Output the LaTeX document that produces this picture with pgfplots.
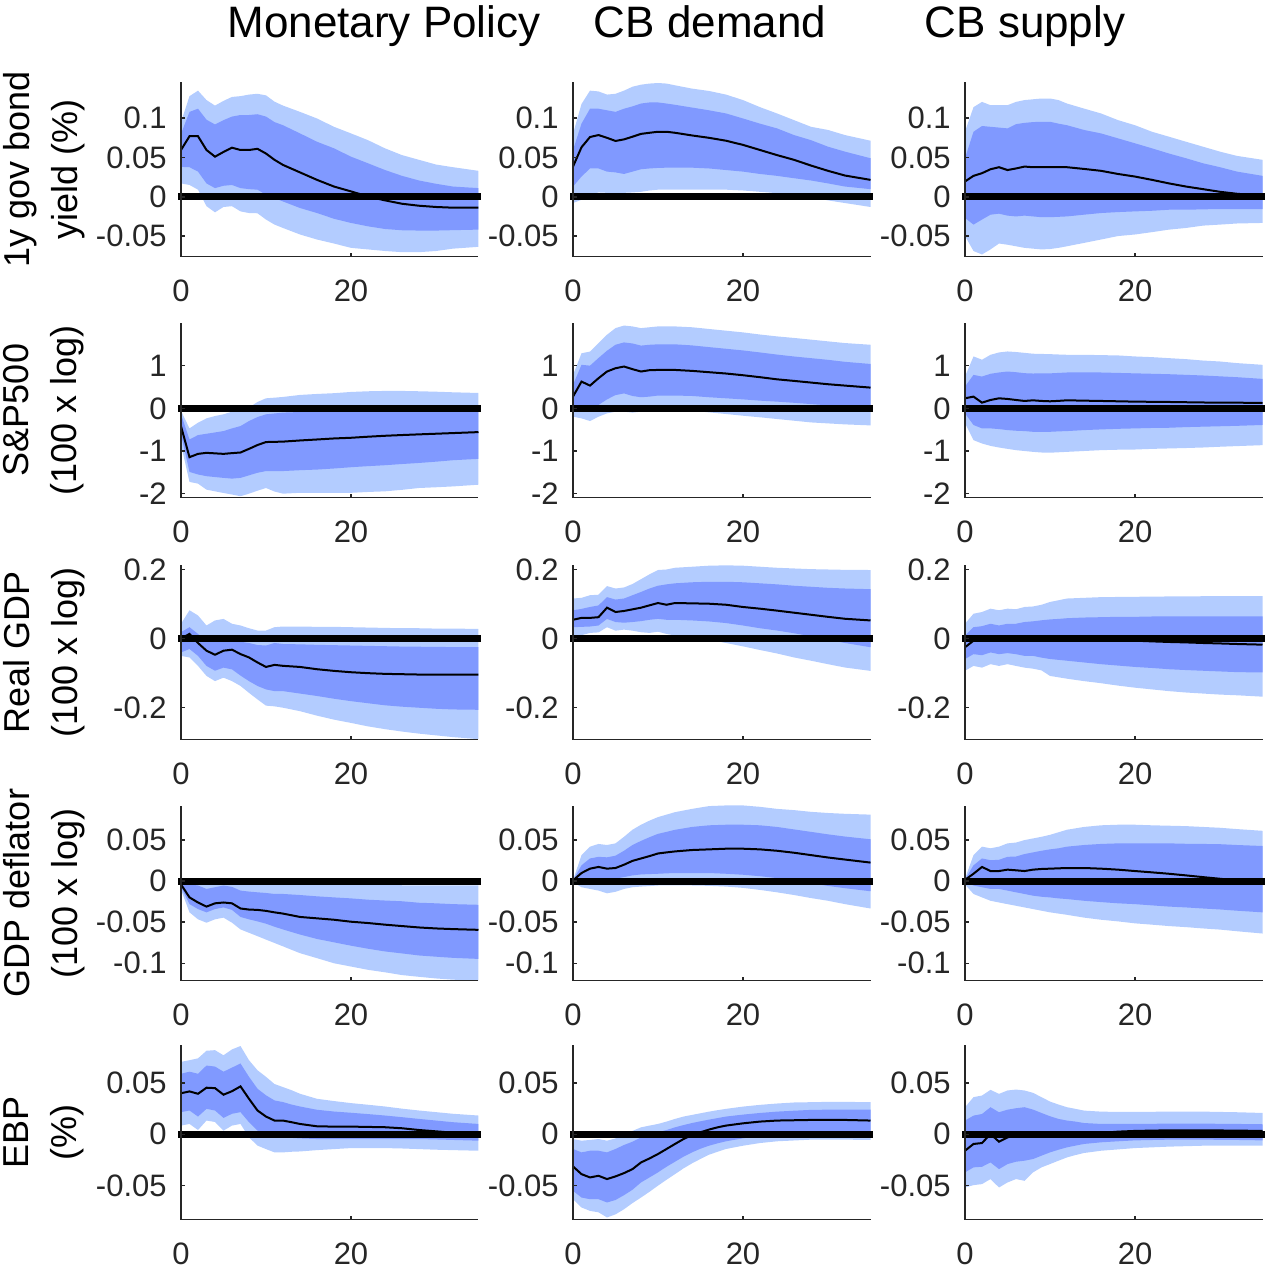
\documentclass[border=0pt]{standalone}
\usepackage{fontspec}
\setmainfont{Liberation Sans}
\usepackage{pgfplots}
\usepackage{pgfplotstable}
\pgfplotsset{compat=1.18}
\usepgfplotslibrary{fillbetween}
\definecolor{lightb}{RGB}{179,204,255}
\definecolor{darkb}{RGB}{128,153,255}
\definecolor{axgray}{RGB}{38,38,38}

\pgfplotstableread{
x l90 l68 m h68 h90
0 0.017 0.038 0.0595 0.080 0.095
1 0.015 0.0376 0.077 0.108 0.128
2 0.009 0.032 0.077 0.112 0.135
3 -0.012 0.017 0.0595 0.098 0.123
4 -0.0198 0.011 0.051 0.092 0.116
5 -0.013 0.014 0.057 0.0975 0.122
6 -0.012 0.015 0.0624 0.102 0.127
7 -0.0186 0.011 0.0595 0.104 0.128
8 -0.0207 0.0097 0.0595 0.104 0.130
9 -0.021 0.009 0.061 0.105 0.131
10 -0.029 0.0025 0.055 0.102 0.129
11 -0.0354 -0.0017 0.047 0.095 0.121
12 -0.0397 -0.006 0.0405 0.091 0.116
14 -0.048 -0.0143 0.031 0.0806 0.108
16 -0.0544 -0.0207 0.0215 0.070 0.0996
18 -0.0595 -0.028 0.013 0.0616 0.089
20 -0.065 -0.0333 0.0068 0.051 0.0806
22 -0.067 -0.0376 0.0004 0.0426 0.072
24 -0.069 -0.041 -0.0046 0.034 0.0616
26 -0.0705 -0.0426 -0.0089 0.0266 0.053
28 -0.0705 -0.043 -0.0114 0.0207 0.047
30 -0.069 -0.043 -0.013 0.0165 0.041
32 -0.066 -0.0425 -0.0139 0.013 0.0376
35 -0.0637 -0.0418 -0.0139 0.011 0.033
}\tAA
\pgfplotstableread{
x l90 l68 m h68 h90
0 -0.008 0.013 0.0384 0.0595 0.080
1 -0.0038 0.0257 0.063 0.093 0.118
2 0.0025 0.036 0.076 0.112 0.135
3 0.0055 0.036 0.0785 0.112 0.134
4 0.005 0.032 0.075 0.110 0.130
5 0.004 0.031 0.071 0.108 0.131
6 0.005 0.029 0.073 0.112 0.135
7 0.0055 0.032 0.0764 0.115 0.140
8 0.0063 0.035 0.080 0.1186 0.1426
9 0.008 0.036 0.0814 0.120 0.144
10 0.009 0.0367 0.0827 0.120 0.1447
11 0.009 0.037 0.0827 0.1186 0.144
12 0.009 0.037 0.0814 0.117 0.1418
14 0.009 0.037 0.078 0.1135 0.1376
16 0.009 0.036 0.075 0.110 0.1346
18 0.009 0.034 0.0713 0.106 0.130
20 0.008 0.032 0.066 0.0996 0.123
22 0.0063 0.029 0.0595 0.093 0.114
24 0.0046 0.0266 0.053 0.087 0.106
26 0.0025 0.0236 0.047 0.0785 0.0975
28 -0.0008 0.0207 0.0397 0.072 0.089
30 -0.0046 0.017 0.033 0.0637 0.085
32 -0.008 0.013 0.027 0.0574 0.0785
35 -0.013 0.0097 0.0215 0.049 0.0713
}\tAB
\pgfplotstableread{
x l90 l68 m h68 h90
0 -0.050 -0.027 0.0194 0.049 0.083
1 -0.069 -0.0354 0.0266 0.0827 0.114
2 -0.0734 -0.029 0.030 0.090 0.1207
3 -0.067 -0.0228 0.035 0.089 0.1165
4 -0.0595 -0.0215 0.0376 0.088 0.1165
5 -0.061 -0.024 0.034 0.087 0.1165
6 -0.063 -0.025 0.036 0.0924 0.1207
7 -0.065 -0.024 0.0384 0.094 0.123
8 -0.066 -0.025 0.0376 0.095 0.124
9 -0.067 -0.026 0.0376 0.0954 0.125
10 -0.0665 -0.026 0.0376 0.0954 0.125
11 -0.065 -0.0255 0.0376 0.093 0.123
12 -0.063 -0.025 0.0376 0.091 0.1186
14 -0.0587 -0.0228 0.0354 0.085 0.1122
16 -0.0544 -0.0207 0.033 0.0806 0.106
18 -0.050 -0.0195 0.029 0.0743 0.0975
20 -0.048 -0.0186 0.0257 0.068 0.091
22 -0.045 -0.0178 0.0215 0.0616 0.0827
24 -0.0418 -0.0165 0.017 0.055 0.0764
26 -0.0397 -0.0165 0.013 0.049 0.070
28 -0.0367 -0.016 0.0097 0.0426 0.0637
30 -0.0354 -0.0156 0.0063 0.0376 0.0574
32 -0.034 -0.0156 0.0038 0.032 0.052
35 -0.0333 -0.0156 0.0013 0.0266 0.047
}\tAC
\pgfplotstableread{
x l90 l68 m h68 h90
0 -0.847 -0.61 -0.42 -0.14 -0.06
1 -1.725 -1.49 -1.145 -0.73 -0.47
2 -1.765 -1.55 -1.067 -0.627 -0.337
3 -1.906 -1.59 -1.043 -0.596 -0.235
4 -1.945 -1.61 -1.055 -0.565 -0.18
5 -1.984 -1.63 -1.067 -0.533 -0.14
6 -2.02 -1.647 -1.05 -0.47 -0.078
7 -2.06 -1.63 -1.035 -0.416 -0.063
8 -2.0 -1.57 -0.95 -0.298 0.016
9 -1.93 -1.51 -0.86 -0.204 0.149
10 -1.867 -1.47 -0.79 -0.14 0.235
11 -1.95 -1.47 -0.785 -0.12 0.25
12 -2.0 -1.47 -0.78 -0.10 0.267
14 -1.98 -1.45 -0.753 -0.086 0.314
16 -1.98 -1.435 -0.73 -0.063 0.337
18 -1.98 -1.41 -0.706 -0.055 0.355
20 -1.98 -1.38 -0.69 -0.047 0.384
22 -1.96 -1.355 -0.665 -0.04 0.40
24 -1.945 -1.333 -0.643 -0.035 0.408
26 -1.91 -1.305 -0.626 -0.035 0.408
28 -1.867 -1.28 -0.61 -0.04 0.40
30 -1.85 -1.25 -0.595 -0.04 0.39
32 -1.83 -1.216 -0.58 -0.047 0.376
35 -1.79 -1.184 -0.557 -0.063 0.36
}\tBA
\pgfplotstableread{
x l90 l68 m h68 h90
0 -0.196 0 0.275 0.55 0.78
1 -0.235 0.04 0.627 1.02 1.29
2 -0.298 -0.02 0.533 1.0 1.33
3 -0.196 0.08 0.706 1.18 1.53
4 -0.118 0.21 0.863 1.35 1.725
5 -0.078 0.31 0.94 1.49 1.88
6 -0.078 0.35 0.98 1.545 1.94
7 -0.1 0.29 0.918 1.52 1.92
8 -0.078 0.26 0.863 1.47 1.88
9 -0.063 0.275 0.894 1.49 1.9
10 -0.04 0.30 0.9 1.5 1.92
11 -0.04 0.30 0.9 1.5 1.92
12 -0.04 0.30 0.9 1.5 1.92
14 -0.055 0.29 0.878 1.475 1.9
16 -0.094 0.26 0.847 1.435 1.86
18 -0.133 0.235 0.816 1.396 1.82
20 -0.173 0.21 0.776 1.357 1.78
22 -0.21 0.18 0.73 1.31 1.73
24 -0.25 0.157 0.68 1.26 1.686
26 -0.29 0.13 0.643 1.215 1.65
28 -0.33 0.10 0.604 1.176 1.61
30 -0.353 0.07 0.565 1.137 1.57
32 -0.376 0.04 0.533 1.09 1.53
35 -0.4 0.016 0.486 1.04 1.49
}\tBB
\pgfplotstableread{
x l90 l68 m h68 h90
0 -0.35 -0.118 0.235 0.51 0.745
1 -0.745 -0.39 0.275 0.784 1.216
2 -0.824 -0.47 0.133 0.745 1.14
3 -0.88 -0.47 0.196 0.81 1.255
4 -0.918 -0.486 0.235 0.84 1.31
5 -0.95 -0.51 0.22 0.863 1.333
6 -0.98 -0.525 0.196 0.847 1.32
7 -1.0 -0.533 0.173 0.824 1.30
8 -1.02 -0.55 0.188 0.816 1.28
9 -1.035 -0.55 0.173 0.82 1.275
10 -1.04 -0.55 0.165 0.82 1.27
11 -1.03 -0.54 0.175 0.83 1.262
12 -1.02 -0.533 0.188 0.84 1.255
14 -1.0 -0.51 0.18 0.84 1.255
16 -0.98 -0.494 0.173 0.84 1.247
18 -0.97 -0.48 0.165 0.83 1.24
20 -0.965 -0.47 0.157 0.82 1.216
22 -0.95 -0.46 0.153 0.81 1.2
24 -0.94 -0.455 0.149 0.8 1.176
26 -0.93 -0.44 0.143 0.785 1.153
28 -0.918 -0.43 0.137 0.77 1.12
30 -0.9 -0.42 0.135 0.75 1.098
32 -0.885 -0.41 0.133 0.73 1.06
35 -0.863 -0.39 0.125 0.69 1.02
}\tBC
\pgfplotstableread{
x l90 l68 m h68 h90
0 -0.05 -0.04 0 0.0185 0.043
1 -0.0545 -0.03 0.0136 0.033 0.082
2 -0.079 -0.05 -0.0127 0.0136 0.067
3 -0.108 -0.079 -0.035 -0.006 0.038
4 -0.123 -0.093 -0.0467 0.004 0.0526
5 -0.113 -0.084 -0.035 0.0088 0.057
6 -0.123 -0.089 -0.032 -0.001 0.043
7 -0.137 -0.107 -0.0448 -0.009 0.038
8 -0.157 -0.123 -0.0545 -0.0127 0.030
9 -0.176 -0.137 -0.069 -0.0185 0.0234
10 -0.194 -0.147 -0.082 -0.020 0.0234
11 -0.196 -0.152 -0.076 -0.0127 0.033
12 -0.2 -0.152 -0.0788 -0.0156 0.035
14 -0.21 -0.159 -0.082 -0.0166 0.035
16 -0.223 -0.166 -0.0886 -0.018 0.034
18 -0.2345 -0.174 -0.0934 -0.019 0.034
20 -0.244 -0.181 -0.0973 -0.020 0.033
22 -0.254 -0.187 -0.1 -0.021 0.032
24 -0.262 -0.193 -0.102 -0.022 0.031
26 -0.269 -0.197 -0.103 -0.023 0.030
28 -0.275 -0.2 -0.104 -0.0235 0.030
30 -0.28 -0.203 -0.104 -0.024 0.029
32 -0.285 -0.205 -0.104 -0.0245 0.029
35 -0.291 -0.206 -0.104 -0.025 0.028
}\tCA
\pgfplotstableread{
x l90 l68 m h68 h90
0 0.0088 0.033 0.0545 0.082 0.116
1 0.010 0.034 0.060 0.086 0.118
2 0.0165 0.035 0.060 0.0915 0.1255
3 0.018 0.038 0.062 0.096 0.127
4 0.033 0.057 0.0895 0.12 0.152
5 0.023 0.048 0.077 0.113 0.145
6 0.026 0.046 0.080 0.116 0.148
7 0.023 0.048 0.0847 0.1255 0.158
8 0.0185 0.0506 0.0895 0.135 0.172
9 0.0165 0.0545 0.0963 0.145 0.186
10 0.020 0.057 0.103 0.153 0.1985
11 0.0136 0.0545 0.098 0.157 0.200
12 0.0088 0.0545 0.103 0.16 0.205
14 0.004 0.0526 0.102 0.163 0.208
16 -0.003 0.0497 0.101 0.1645 0.211
18 -0.0127 0.045 0.098 0.1645 0.212
20 -0.0224 0.038 0.0915 0.163 0.211
22 -0.033 0.030 0.0866 0.16 0.208
24 -0.043 0.0234 0.081 0.157 0.205
26 -0.0545 0.0156 0.075 0.153 0.203
28 -0.064 0.0068 0.069 0.15 0.201
30 -0.074 -0.003 0.063 0.147 0.200
32 -0.0837 -0.0127 0.0574 0.145 0.199
35 -0.0934 -0.025 0.0526 0.143 0.1985
}\tCB
\pgfplotstableread{
x l90 l68 m h68 h90
0 -0.093 -0.059 -0.025 0.0088 0.043
1 -0.079 -0.045 -0.006 0.033 0.072
2 -0.084 -0.048 0.001 0.036 0.077
3 -0.074 -0.04 0.001 0.043 0.0866
4 -0.079 -0.045 0.0 0.038 0.082
5 -0.074 -0.042 0.0 0.043 0.0866
6 -0.079 -0.045 0.0 0.043 0.085
7 -0.084 -0.05 0.0 0.048 0.0915
8 -0.087 -0.05 0.0 0.050 0.093
9 -0.092 -0.055 0.0 0.053 0.098
10 -0.108 -0.059 0.0 0.0555 0.106
11 -0.112 -0.0615 0.0 0.057 0.111
12 -0.116 -0.064 0.0 0.059 0.116
14 -0.123 -0.069 -0.0005 0.061 0.118
16 -0.129 -0.074 -0.002 0.062 0.12
18 -0.136 -0.078 -0.004 0.063 0.1205
20 -0.142 -0.082 -0.006 0.063 0.121
22 -0.147 -0.085 -0.008 0.064 0.1215
24 -0.152 -0.0886 -0.0097 0.064 0.122
26 -0.156 -0.091 -0.011 0.064 0.1225
28 -0.159 -0.093 -0.0127 0.064 0.1226
30 -0.162 -0.095 -0.014 0.064 0.1226
32 -0.164 -0.097 -0.0156 0.064 0.1226
35 -0.168 -0.098 -0.0175 0.064 0.1226
}\tCC
\pgfplotstableread{
x l90 l68 m h68 h90
0 -0.0105 -0.0074 -0.004 0 0
1 -0.038 -0.028 -0.0198 -0.004 -0.001
2 -0.0465 -0.034 -0.026 -0.0053 -0.002
3 -0.0506 -0.038 -0.031 -0.0095 -0.003
4 -0.0465 -0.034 -0.027 -0.0074 -0.002
5 -0.0444 -0.032 -0.026 -0.0053 -0.001
6 -0.0506 -0.035 -0.027 -0.007 -0.002
7 -0.0588 -0.0436 -0.0333 -0.0115 -0.003
8 -0.0629 -0.0465 -0.0346 -0.0127 -0.003
9 -0.067 -0.049 -0.035 -0.0136 -0.003
10 -0.0712 -0.0518 -0.0362 -0.0144 -0.003
11 -0.0753 -0.0555 -0.038 -0.0156 -0.003
12 -0.0794 -0.0588 -0.0395 -0.0156 -0.003
14 -0.0877 -0.065 -0.0436 -0.0169 -0.003
16 -0.0938 -0.0704 -0.0453 -0.0185 -0.0035
18 -0.1 -0.0745 -0.047 -0.0198 -0.004
20 -0.104 -0.0786 -0.0494 -0.021 -0.004
22 -0.108 -0.0823 -0.051 -0.0226 -0.0045
24 -0.111 -0.0856 -0.053 -0.0236 -0.0045
26 -0.1144 -0.088 -0.0547 -0.0245 -0.005
28 -0.1165 -0.0905 -0.0564 -0.0263 -0.005
30 -0.1185 -0.092 -0.0576 -0.027 -0.005
32 -0.12 -0.0934 -0.0584 -0.028 -0.005
35 -0.121 -0.0947 -0.0593 -0.0288 -0.005
}\tDA
\pgfplotstableread{
x l90 l68 m h68 h90
0 -0.0012 0 0.0008 0.001 0.001
1 -0.0074 0.0016 0.0099 0.0193 0.0317
2 -0.0095 0.003 0.0152 0.0276 0.042
3 -0.0115 0.0037 0.0173 0.0296 0.0453
4 -0.0148 0.003 0.0152 0.029 0.044
5 -0.013 0.003 0.016 0.031 0.046
6 -0.0095 0.005 0.020 0.037 0.054
7 -0.0074 0.007 0.0247 0.044 0.0626
8 -0.0066 0.0082 0.0276 0.049 0.0687
9 -0.006 0.0086 0.0305 0.0535 0.0737
10 -0.0053 0.009 0.0337 0.0576 0.078
11 -0.0053 0.0095 0.035 0.060 0.081
12 -0.0053 0.0099 0.0362 0.0625 0.084
14 -0.0053 0.0099 0.0379 0.066 0.088
16 -0.0057 0.0099 0.0387 0.068 0.0914
18 -0.0066 0.009 0.0395 0.0687 0.0922
20 -0.0082 0.0078 0.0395 0.0687 0.0922
22 -0.0107 0.006 0.0387 0.068 0.0905
24 -0.0136 0.0037 0.037 0.066 0.088
26 -0.0169 0.0008 0.0346 0.063 0.0865
28 -0.0206 -0.0025 0.0317 0.060 0.0844
30 -0.0239 -0.0058 0.0288 0.057 0.083
32 -0.028 -0.0086 0.0263 0.0543 0.082
35 -0.0333 -0.0123 0.0226 0.051 0.081
}\tDB
\pgfplotstableread{
x l90 l68 m h68 h90
0 -0.004 -0.0012 0.0016 0.002 0.003
1 -0.0156 -0.0053 0.009 0.0193 0.0317
2 -0.0198 -0.0074 0.0173 0.0276 0.042
3 -0.0239 -0.0095 0.0123 0.0255 0.040
4 -0.026 -0.0095 0.0123 0.026 0.042
5 -0.028 -0.0115 0.014 0.0296 0.046
6 -0.030 -0.0136 0.0132 0.030 0.047
7 -0.032 -0.0156 0.0123 0.033 0.050
8 -0.034 -0.0177 0.014 0.035 0.052
9 -0.036 -0.019 0.0148 0.037 0.054
10 -0.038 -0.0198 0.0152 0.0387 0.0564
11 -0.0395 -0.021 0.0156 0.040 0.0595
12 -0.041 -0.0218 0.016 0.042 0.0626
14 -0.0444 -0.0239 0.016 0.044 0.066
16 -0.047 -0.0255 0.0152 0.0453 0.068
18 -0.049 -0.027 0.014 0.046 0.0687
20 -0.0514 -0.028 0.0123 0.046 0.0687
22 -0.053 -0.0295 0.0107 0.046 0.068
24 -0.0547 -0.031 0.009 0.046 0.0675
26 -0.056 -0.032 0.007 0.0455 0.067
28 -0.0576 -0.0333 0.0049 0.0453 0.066
30 -0.059 -0.0345 0.0029 0.045 0.065
32 -0.061 -0.036 0.0008 0.044 0.0634
35 -0.0638 -0.038 0.0 0.0428 0.0613
}\tDC
\pgfplotstableread{
x l90 l68 m h68 h90
0 0.0085 0.0216 0.040 0.059 0.0706
1 0.0101 0.0232 0.0418 0.061 0.0722
2 0.0042 0.0173 0.0395 0.059 0.074
3 0.0134 0.0248 0.0454 0.067 0.0814
4 0.012 0.0232 0.045 0.066 0.082
5 0.0036 0.016 0.0386 0.061 0.077
6 0.0085 0.020 0.042 0.065 0.0827
7 0.0101 0.0216 0.0467 0.069 0.086
8 -0.003 0.0118 0.0346 0.056 0.0722
9 -0.011 0.0036 0.0232 0.0444 0.0624
10 -0.0144 0.0003 0.0173 0.038 0.056
11 -0.0176 -0.0023 0.0134 0.033 0.049
12 -0.0176 -0.003 0.0134 0.0314 0.046
13 -0.017 -0.0035 0.0118 0.029 0.043
14 -0.0167 -0.004 0.0101 0.0271 0.0395
16 -0.0154 -0.0046 0.0078 0.0239 0.0346
18 -0.0144 -0.0046 0.0075 0.0222 0.0324
20 -0.0134 -0.0046 0.0075 0.021 0.0304
22 -0.0134 -0.0046 0.0072 0.0197 0.0288
24 -0.0134 -0.0046 0.0069 0.0183 0.0271
26 -0.0138 -0.0046 0.0059 0.0167 0.025
28 -0.0144 -0.0046 0.0042 0.015 0.0232
30 -0.015 -0.005 0.0029 0.0134 0.0216
32 -0.0154 -0.0055 0.0016 0.0118 0.020
35 -0.016 -0.0062 0.0003 0.0101 0.0183
}\tEA
\pgfplotstableread{
x l90 l68 m h68 h90
0 -0.0632 -0.055 -0.0313 -0.0143 -0.0046
1 -0.0713 -0.0616 -0.0388 -0.0176 -0.0062
2 -0.0746 -0.0632 -0.042 -0.016 -0.0055
3 -0.076 -0.0632 -0.0404 -0.016 -0.0046
4 -0.081 -0.0664 -0.0436 -0.0176 -0.0062
5 -0.078 -0.064 -0.041 -0.0143 -0.004
6 -0.073 -0.0593 -0.0378 -0.0104 0
7 -0.067 -0.054 -0.0339 -0.0072 0.0033
8 -0.0616 -0.0469 -0.0274 -0.003 0.0068
9 -0.056 -0.042 -0.0235 -0.0007 0.0085
10 -0.050 -0.0371 -0.0192 0.002 0.0101
11 -0.0443 -0.0316 -0.0143 0.0042 0.0124
12 -0.0388 -0.0267 -0.0094 0.0068 0.015
13 -0.0332 -0.0218 -0.0046 0.009 0.0173
14 -0.0283 -0.0176 -0.0007 0.011 0.0189
15 -0.024 -0.014 0.002 0.0127 0.0205
16 -0.0199 -0.0111 0.0046 0.0143 0.0221
17 -0.017 -0.0088 0.0068 0.0158 0.0235
18 -0.0143 -0.0068 0.0085 0.0173 0.0248
20 -0.0111 -0.0039 0.0107 0.0192 0.027
22 -0.0085 -0.0013 0.0124 0.0208 0.0287
24 -0.0068 0.0003 0.0134 0.0221 0.030
26 -0.006 0.0013 0.0137 0.023 0.031
28 -0.0052 0.002 0.014 0.0238 0.0313
30 -0.0052 0.002 0.014 0.024 0.0316
32 -0.0052 0.002 0.014 0.0241 0.0316
35 -0.0055 0.0016 0.0134 0.0241 0.0313
}\tEB
\pgfplotstableread{
x l90 l68 m h68 h90
0 -0.0518 -0.0371 -0.016 0.0134 0.0264
1 -0.0495 -0.0322 -0.0094 0.0182 0.0362
2 -0.0485 -0.0316 -0.0085 0.0198 0.0378
3 -0.0436 -0.0274 0.0003 0.0264 0.0433
4 -0.0518 -0.0339 -0.0072 0.0215 0.0394
5 -0.0469 -0.029 -0.003 0.024 0.0427
6 -0.0436 -0.0267 -0.0007 0.0254 0.0436
7 -0.0453 -0.0257 -0.0007 0.0264 0.0427
8 -0.0371 -0.0241 -0.0003 0.0241 0.0404
9 -0.0322 -0.0208 0 0.0208 0.0362
10 -0.029 -0.0176 0 0.0176 0.0319
11 -0.0257 -0.015 0 0.015 0.029
12 -0.0225 -0.0127 0 0.0134 0.0264
13 -0.0202 -0.011 0 0.0124 0.0248
14 -0.0182 -0.0094 0.0003 0.011 0.0231
16 -0.016 -0.0078 0.0013 0.0101 0.0221
18 -0.0147 -0.0068 0.0026 0.0101 0.0218
20 -0.0134 -0.0059 0.0033 0.0101 0.0218
24 -0.012 -0.0052 0.0039 0.0104 0.0221
28 -0.0111 -0.0052 0.0039 0.0104 0.0221
32 -0.0111 -0.0055 0.0036 0.0101 0.0215
35 -0.0111 -0.0059 0.0033 0.0098 0.0208
}\tEC

\newcommand{\irf}[1]{%
  \addplot[draw=none, name path=hA] table[x=x,y=h90]{#1};
  \addplot[draw=none, name path=lA] table[x=x,y=l90]{#1};
  \addplot[fill=lightb, draw=none] fill between[of=hA and lA];
  \addplot[draw=none, name path=hB] table[x=x,y=h68]{#1};
  \addplot[draw=none, name path=lB] table[x=x,y=l68]{#1};
  \addplot[fill=darkb, draw=none] fill between[of=hB and lB];
  \addplot[black, line width=1pt] table[x=x,y=m]{#1};
  \addplot[black, line width=3.5pt] coordinates {(-0.35,0) (35.35,0)};
}

\pgfplotsset{
  panel/.style={
    anchor=north west,
    scale only axis,
    width=148.75pt, height=87.25pt,
    xmin=0, xmax=35,
    clip=false,
    axis on top,
    scaled y ticks=false, scaled x ticks=false,
    axis x line*=bottom, axis y line*=left,
    axis line style={axgray, line width=0.75pt},
    tick style={axgray, line width=0.75pt},
    tick align=inside,
    major tick length=2pt,
    xtick={0,20}, xticklabels={0,20},
    ticklabel style={font=\fontsize{15.5}{18}\selectfont, text=axgray},
    xticklabel style={anchor=base, yshift=-22.5pt},
    yticklabel style={anchor=east, inner sep=0pt, xshift=-7pt},
  },
  r1/.style={ymin=-0.076, ymax=0.146, ytick={-0.05,0,0.05,0.1}, yticklabels={-0.05,0,0.05,0.1}},
  r2/.style={ymin=-2.09, ymax=2.0, ytick={-2,-1,0,1}, yticklabels={-2,-1,0,1}},
  r3/.style={ymin=-0.292, ymax=0.213, ytick={-0.2,0,0.2}, yticklabels={-0.2,0,0.2}},
  r4/.style={ymin=-0.121, ymax=0.0915, ytick={-0.1,-0.05,0,0.05}, yticklabels={-0.1,-0.05,0,0.05}},
  r5/.style={ymin=-0.083, ymax=0.087, ytick={-0.05,0,0.05}, yticklabels={-0.05,0,0.05}},
}

\begin{document}
\begin{tikzpicture}
\node[anchor=base, font=\fontsize{22}{26}\selectfont] at (192pt,-18.5pt) {Monetary Policy};
\node[anchor=base, font=\fontsize{22}{26}\selectfont] at (355pt,-18.5pt) {CB demand};
\node[anchor=base, font=\fontsize{22}{26}\selectfont] at (512.5pt,-18.5pt) {CB supply};

\begin{scope}[every node/.style={rotate=90, align=center, font=\fontsize{18}{24}\selectfont}]
\node at (22pt,-84.75pt) {1y gov bond\\yield (\%)};
\node at (22pt,-205pt) {S\&P500\\(100 x log)};
\node at (22pt,-326pt) {Real GDP\\(100 x log)};
\node at (22pt,-446.5pt) {GDP deflator\\(100 x log)};
\node at (22pt,-566pt) {EBP\\(\%)};
\end{scope}

\begin{axis}[panel, r1, at={(90.5pt,-41pt)}] \irf{\tAA} \end{axis}
\begin{axis}[panel, r1, at={(286.5pt,-41pt)}] \irf{\tAB} \end{axis}
\begin{axis}[panel, r1, at={(482.5pt,-41pt)}] \irf{\tAC} \end{axis}

\begin{axis}[panel, r2, at={(90.5pt,-161.5pt)}] \irf{\tBA} \end{axis}
\begin{axis}[panel, r2, at={(286.5pt,-161.5pt)}] \irf{\tBB} \end{axis}
\begin{axis}[panel, r2, at={(482.5pt,-161.5pt)}] \irf{\tBC} \end{axis}

\begin{axis}[panel, r3, at={(90.5pt,-282.5pt)}] \irf{\tCA} \end{axis}
\begin{axis}[panel, r3, at={(286.5pt,-282.5pt)}] \irf{\tCB} \end{axis}
\begin{axis}[panel, r3, at={(482.5pt,-282.5pt)}] \irf{\tCC} \end{axis}

\begin{axis}[panel, r4, at={(90.5pt,-403pt)}] \irf{\tDA} \end{axis}
\begin{axis}[panel, r4, at={(286.5pt,-403pt)}] \irf{\tDB} \end{axis}
\begin{axis}[panel, r4, at={(482.5pt,-403pt)}] \irf{\tDC} \end{axis}

\begin{axis}[panel, r5, at={(90.5pt,-522.5pt)}] \irf{\tEA} \end{axis}
\begin{axis}[panel, r5, at={(286.5pt,-522.5pt)}] \irf{\tEB} \end{axis}
\begin{axis}[panel, r5, at={(482.5pt,-522.5pt)}] \irf{\tEC} \end{axis}

\pgfresetboundingbox
\path[use as bounding box] (0,0) rectangle (632pt,-634.5pt);
\end{tikzpicture}
\end{document}
